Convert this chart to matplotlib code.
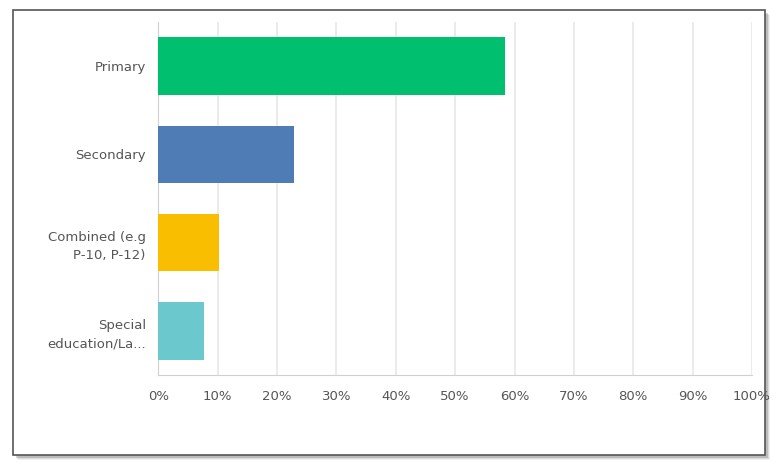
import numpy as np
import matplotlib
matplotlib.use('Agg')
import matplotlib.pyplot as plt
from matplotlib.patches import Rectangle

# survey answer shares (percent)
categories = ['Primary', 'Secondary', 'Combined (e.g\nP-10, P-12)', 'Special\neducation/La...']
values = [58.4, 22.8, 10.3, 7.7]
colors = ['#00BF6F', '#507CB6', '#F9BE00', '#6BC8CD']
ticks = np.arange(0, 101, 10)
tick_labels = ['{}%'.format(t) for t in ticks]

W, H = 778, 466
fig = plt.figure(figsize=(W / 100, H / 100), dpi=100)
fig.patch.set_facecolor('white')

# framed card with soft shadow
for off, a in [(5, 0.10), (4, 0.18), (3, 0.30)]:
    fig.patches.append(Rectangle(((13 + off) / W, 1 - (455 + off) / H), 752 / W, 445 / H,
                                 transform=fig.transFigure, facecolor='#777777',
                                 edgecolor='none', alpha=a, zorder=0))
fig.patches.append(Rectangle((13 / W, 1 - 455 / H), 752 / W, 445 / H,
                             transform=fig.transFigure, facecolor='white',
                             edgecolor='#555555', linewidth=1.2, zorder=1))

ax = fig.add_axes([158.3 / W, 1 - 375 / H, (752 - 158.3) / W, (375 - 22) / H])
ax.set_facecolor('none')
ax.set_zorder(2)

y = np.arange(len(categories))
ax.barh(y, values, height=0.65, color=colors, zorder=3)

ax.set_xlim(0, 100)
ax.set_ylim(len(categories) - 0.5, -0.5)
ax.set_xticks(ticks)
ax.set_xticklabels(tick_labels)
ax.set_yticks(y)
ax.set_yticklabels(categories, ha='right', linespacing=1.5)
ax.tick_params(axis='both', length=0, colors='#555555', labelsize=9.5)
ax.tick_params(axis='x', pad=11)
ax.tick_params(axis='y', pad=9)
ax.xaxis.grid(True, color='#e8e8e8', linewidth=1.2, zorder=0)
ax.set_axisbelow(True)

for s in ['top', 'right']:
    ax.spines[s].set_visible(False)
ax.spines['left'].set_color('#d0d0d0')
ax.spines['bottom'].set_color('#d0d0d0')

fig.savefig('out.png', dpi=100)
